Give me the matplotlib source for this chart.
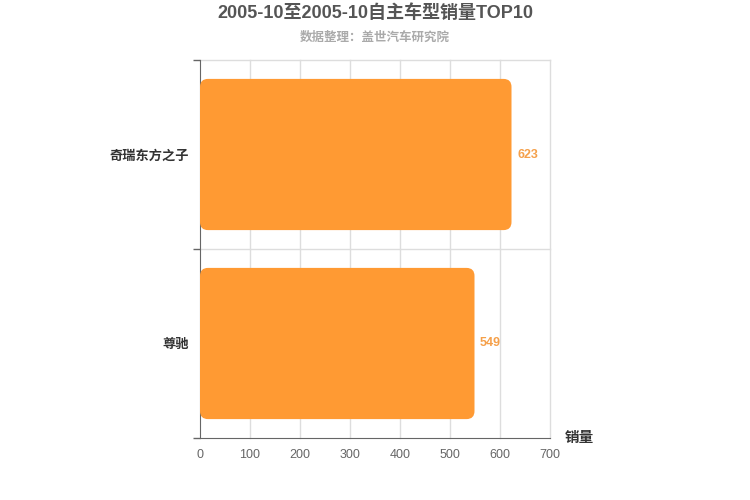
import matplotlib
matplotlib.use("Agg")
import matplotlib.pyplot as plt
from matplotlib.patches import FancyBboxPatch

plt.rcParams['font.family'] = ['Liberation Sans', 'Noto Sans CJK SC', 'DejaVu Sans']

categories = ['奇瑞东方之子', '尊驰']
sales = [623, 549]
xticks = [0, 100, 200, 300, 400, 500, 600, 700]
title = '2005-10至2005-10自主车型销量TOP10'
subtitle = '数据整理：盖世汽车研究院'
bar_color = '#FF9A33'

fig = plt.figure(figsize=(7.5, 5), dpi=100)
ax = fig.add_axes([200/750, 1-438/500, 350/750, 378/500])
ax.set_xlim(0, 700)
ax.set_ylim(len(categories)-0.5, -0.5)

# pixel scale for rounded corners
ax_w_px = 350.0
ax_h_px = 378.0
x_per_px = 700 / ax_w_px
y_per_px = len(categories) / ax_h_px
radius_px = 8
bh = 0.8
for i, v in enumerate(sales):
    p = FancyBboxPatch((0, i - bh/2), v, bh,
                       boxstyle=f"round,pad=0,rounding_size={radius_px*x_per_px}",
                       mutation_aspect=y_per_px/x_per_px,
                       facecolor=bar_color, edgecolor='none', zorder=3)
    ax.add_patch(p)
    ax.annotate(str(v), xy=(v, i), xytext=(4, 0), textcoords='offset points',
                ha='left', va='center', color='#F5A04A', fontsize=9, fontweight='bold')

ax.set_xticks(xticks)
ax.set_xticklabels([str(t) for t in xticks], color='#666666', fontsize=9)
ax.tick_params(axis='x', length=0, pad=8)
for t in xticks[1:]:
    ax.axvline(t, color='#dddddd', linewidth=1, zorder=0, clip_on=False)

ax.set_yticks(range(len(categories)))
ax.set_yticklabels(categories, fontsize=9.5, fontweight='bold', color='#333333')
ax.tick_params(axis='y', length=0, pad=8)
# category boundary ticks and gridlines
bounds = [i - 0.5 for i in range(len(categories)+1)]
ax.set_yticks(bounds, minor=True)
ax.tick_params(axis='y', which='minor', length=5, color='#666666', width=1)
for b in bounds[:-1]:
    ax.axhline(b, color='#dddddd', linewidth=1, zorder=0, clip_on=False)

for s in ['top', 'right']:
    ax.spines[s].set_visible(False)
ax.spines['left'].set_color('#666666')
ax.spines['bottom'].set_color('#666666')
ax.set_axisbelow(True)

fig.text(0.5, 1-13/500, title, ha='center', va='center', fontsize=13,
         fontweight='bold', color='#555555')
fig.text(0.5, 1-38/500, subtitle, ha='center', va='center', fontsize=9,
         fontweight='bold', color='#AAAAAA')
fig.text(565/750, 1-438/500, '销量', ha='left', va='center', fontsize=10.5,
         fontweight='bold', color='#333333')

fig.savefig('out.png', dpi=100)
